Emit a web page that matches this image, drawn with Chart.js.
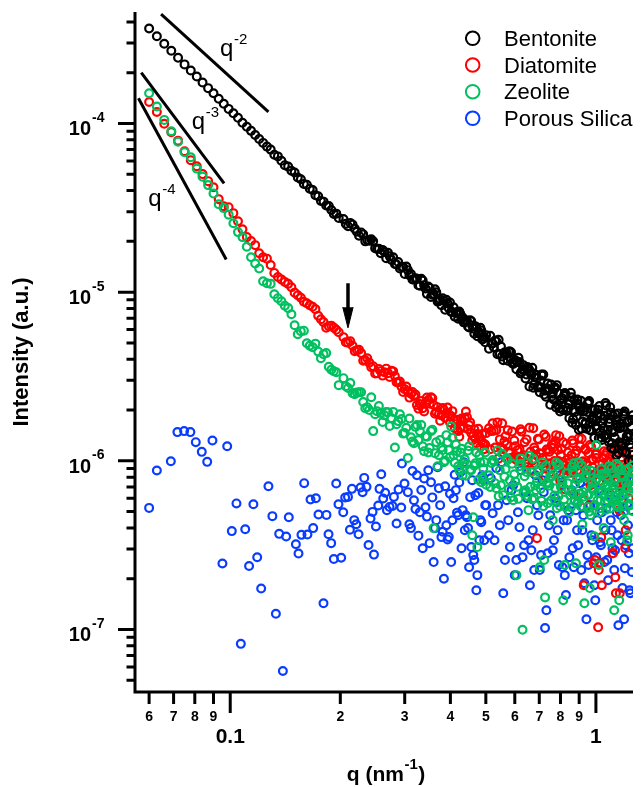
<!DOCTYPE html>
<html>
<head>
<meta charset="utf-8">
<script src="https://cdn.jsdelivr.net/npm/chart.js@4.4.1/dist/chart.umd.min.js"></script>
<style>
html,body{margin:0;padding:0;background:#fff;}
canvas{display:block;}
</style>
</head>
<body>
<canvas id="c" width="644" height="787" style="width:644px;height:787px"></canvas>
<script>
// ---------------- data ----------------
// q grid shared by Bentonite, Diatomite and Zeolite (nm^-1)
const qGrid = [
0.060,0.063,0.066,0.069,0.072,0.075,0.078,0.081,0.084,0.087,0.090,0.093,0.096,0.099,0.102,0.105,0.108,0.111,0.114,0.117,0.120,0.123,0.126,0.129,0.132,0.135,0.138,0.141,0.144,0.147,0.150,0.153,0.156,0.159,0.162,0.165,0.168,0.171,0.174,0.177,0.180,0.183,0.186,0.189,0.192,0.195,0.198,
0.204,0.210,0.216,0.222,0.228,0.234,0.240,0.246,0.252,0.258,0.264,0.270,0.276,0.282,0.288,0.294,0.300,0.306,0.312,0.318,0.324,0.330,0.336,0.342,0.348,0.354,0.360,0.366,0.372,0.378,0.384,0.390,0.396,0.402,0.408,0.414,0.420,0.426,0.432,0.438,0.444,0.450,0.456,0.462,0.468,0.474,0.480,0.486,0.492,0.498,
0.510,0.522,0.534,0.546,0.558,0.570,0.582,0.594,0.606,0.618,0.630,0.642,0.654,0.666,0.678,0.690,0.702,0.714,0.726,0.738,0.750,0.762,0.774,0.786,0.798,0.810,0.822,0.834,0.846,0.858,0.870,0.882,0.894,0.906,0.918,0.930,0.942,0.954,0.966,0.978,0.990,1.002,1.014,1.026,1.038,1.050,1.062,1.074,1.086,1.098,1.110,1.122,1.134,1.146,1.158,1.170,1.182,1.194,1.206,1.218,1.230,1.242,1.254
];
const qMidB = [0.207,0.213,0.219,0.225,0.231,0.237,0.243,0.249,0.255,0.261,0.267,0.273,0.279,0.285,0.291,0.297,0.303,0.309,0.315,0.321,0.327,0.333,0.339,0.345,0.351,0.357,0.363,0.369,0.375,0.381,0.387,0.393,0.399,0.405,0.411,0.417,0.423,0.429,0.435,0.441,0.447,0.453,0.459,0.465,0.471,0.477,0.483,0.489,0.495,0.501];
const qC2 = [0.514,0.526,0.538,0.550,0.562,0.574,0.586,0.598,0.610,0.622,0.634,0.646,0.658,0.670,0.682,0.694,0.706,0.718,0.730,0.742,0.754,0.766,0.778,0.790,0.802,0.814,0.826,0.838,0.850,0.862,0.874,0.886,0.898,0.910,0.922,0.934,0.946,0.958,0.970,0.982,0.994,1.006,1.018,1.030,1.042,1.054,1.066,1.078,1.090,1.102,1.114,1.126,1.138,1.150,1.162,1.174,1.186,1.198,1.210,1.222,1.234,1.246,1.258];
const qC3 = [0.518,0.530,0.542,0.554,0.566,0.578,0.590,0.602,0.614,0.626,0.638,0.650,0.662,0.674,0.686,0.698,0.710,0.722,0.734,0.746,0.758,0.770,0.782,0.794,0.806,0.818,0.830,0.842,0.854,0.866,0.878,0.890,0.902,0.914,0.926,0.938,0.950,0.962,0.974,0.986,0.998,1.010,1.022,1.034,1.046,1.058,1.070,1.082,1.094,1.106,1.118,1.130,1.142,1.154,1.166,1.178,1.190,1.202,1.214,1.226,1.238,1.250,1.262];

// Bentonite intensity (a.u.)
const bentonite = [
3.66e-4,3.29e-4,2.97e-4,2.70e-4,2.45e-4,2.24e-4,2.06e-4,1.90e-4,1.75e-4,1.62e-4,1.51e-4,1.40e-4,1.31e-4,1.22e-4,1.15e-4,1.08e-4,1.01e-4,9.57e-5,9.04e-5,8.55e-5,8.09e-5,7.67e-5,7.29e-5,7.00e-5,6.53e-5,6.38e-5,6.01e-5,5.66e-5,5.55e-5,5.25e-5,5.12e-5,4.78e-5,4.67e-5,4.38e-5,4.33e-5,4.10e-5,4.03e-5,3.75e-5,3.70e-5,3.47e-5,3.44e-5,3.26e-5,3.24e-5,3.07e-5,2.91e-5,2.92e-5,2.75e-5,
2.71e-5,2.46e-5,2.52e-5,2.28e-5,2.26e-5,2.00e-5,2.02e-5,2.00e-5,1.80e-5,1.70e-5,1.73e-5,1.71e-5,1.55e-5,1.47e-5,1.51e-5,1.41e-5,1.28e-5,1.35e-5,1.28e-5,1.19e-5,1.20e-5,1.09e-5,1.17e-5,1.05e-5,1.08e-5,9.35e-6,9.79e-6,9.98e-6,8.85e-6,8.36e-6,8.89e-6,9.02e-6,8.02e-6,7.64e-6,8.13e-6,7.53e-6,6.95e-6,7.41e-6,7.08e-6,6.62e-6,6.78e-6,6.17e-6,6.73e-6,6.08e-6,6.28e-6,5.48e-6,5.78e-6,5.93e-6,5.30e-6,5.04e-6,
4.62e-6,4.96e-6,5.12e-6,4.29e-6,3.95e-6,4.35e-6,4.45e-6,3.75e-6,3.49e-6,3.86e-6,3.47e-6,3.08e-6,3.52e-6,3.24e-6,2.84e-6,3.09e-6,2.55e-6,3.20e-6,2.60e-6,2.87e-6,2.15e-6,2.50e-6,2.72e-6,2.15e-6,1.96e-6,2.35e-6,2.52e-6,1.99e-6,1.79e-6,2.38e-6,1.99e-6,1.63e-6,2.17e-6,1.99e-6,1.71e-6,1.98e-6,1.55e-6,2.21e-6,1.69e-6,2.00e-6,1.37e-6,1.74e-6,2.01e-6,1.47e-6,1.33e-6,1.77e-6,2.20e-6,1.43e-6,1.29e-6,1.93e-6,1.53e-6,1.17e-6,1.75e-6,1.58e-6,1.29e-6,1.60e-6,1.14e-6,1.90e-6,1.32e-6,1.69e-6,9.98e-7,1.41e-6,1.75e-6
];
const bentoniteMidB = [2.54e-5,2.57e-5,2.38e-5,2.16e-5,2.20e-5,2.03e-5,2.06e-5,1.82e-5,1.81e-5,1.78e-5,1.59e-5,1.63e-5,1.61e-5,1.46e-5,1.38e-5,1.41e-5,1.42e-5,1.26e-5,1.19e-5,1.21e-5,1.10e-5,1.20e-5,1.10e-5,9.77e-6,1.06e-5,9.64e-6,1.04e-5,8.79e-6,9.03e-6,9.20e-6,7.87e-6,8.57e-6,8.68e-6,7.60e-6,7.16e-6,7.62e-6,7.67e-6,6.96e-6,6.62e-6,6.78e-6,6.25e-6,6.82e-6,6.35e-6,5.67e-6,6.19e-6,5.70e-6,6.15e-6,5.24e-6,5.42e-6,5.56e-6];
const bentoniteC2 = [5.51e-6,4.71e-6,4.29e-6,4.76e-6,4.38e-6,3.92e-6,4.40e-6,3.82e-6,3.87e-6,3.30e-6,3.69e-6,3.25e-6,2.76e-6,3.56e-6,3.13e-6,2.72e-6,2.99e-6,3.25e-6,2.40e-6,2.61e-6,2.83e-6,2.31e-6,2.07e-6,2.52e-6,2.30e-6,2.00e-6,2.48e-6,2.06e-6,2.25e-6,1.68e-6,2.29e-6,1.83e-6,1.53e-6,2.27e-6,1.96e-6,1.65e-6,1.95e-6,2.26e-6,1.51e-6,1.75e-6,2.02e-6,1.55e-6,1.36e-6,1.85e-6,1.67e-6,1.41e-6,2.13e-6,1.53e-6,1.77e-6,1.19e-6,1.85e-6,1.37e-6,1.08e-6,1.91e-6,1.56e-6,1.23e-6,1.58e-6,1.96e-6,1.12e-6,1.39e-6,1.73e-6,1.20e-6,1.01e-6];
const bentoniteC3 = [4.97e-6,5.17e-6,5.22e-6,4.16e-6,4.25e-6,4.44e-6,3.81e-6,3.94e-6,4.08e-6,3.37e-6,3.43e-6,3.60e-6,3.40e-6,2.71e-6,3.24e-6,2.76e-6,3.25e-6,2.47e-6,2.69e-6,2.65e-6,2.41e-6,2.67e-6,2.81e-6,2.05e-6,2.19e-6,2.43e-6,1.98e-6,2.16e-6,2.53e-6,1.76e-6,1.95e-6,2.31e-6,2.07e-6,1.55e-6,2.06e-6,1.69e-6,2.19e-6,1.53e-6,1.77e-6,1.79e-6,1.61e-6,1.91e-6,2.11e-6,1.37e-6,1.56e-6,1.85e-6,1.36e-6,1.68e-6,2.08e-6,1.27e-6,1.48e-6,1.89e-6,1.64e-6,1.11e-6,1.66e-6,1.27e-6,1.85e-6,1.13e-6,1.40e-6,1.44e-6,1.25e-6,1.60e-6,1.86e-6];

// Diatomite intensity (a.u.)
const diatomite = [
1.34e-4,1.17e-4,9.97e-5,8.88e-5,7.91e-5,6.85e-5,6.06e-5,5.58e-5,5.01e-5,4.55e-5,4.19e-5,3.56e-5,3.23e-5,3.19e-5,2.94e-5,2.63e-5,2.36e-5,2.12e-5,2.01e-5,1.90e-5,1.70e-5,1.61e-5,1.58e-5,1.45e-5,1.30e-5,1.23e-5,1.19e-5,1.15e-5,1.12e-5,1.07e-5,9.93e-6,9.59e-6,9.27e-6,8.78e-6,8.60e-6,8.37e-6,8.20e-6,7.93e-6,7.25e-6,6.91e-6,6.64e-6,6.16e-6,6.28e-6,6.33e-6,6.16e-6,5.99e-6,5.79e-6,
5.41e-6,5.02e-6,4.81e-6,4.53e-6,4.35e-6,3.95e-6,3.82e-6,3.64e-6,3.31e-6,3.40e-6,3.35e-6,3.31e-6,3.42e-6,3.18e-6,2.91e-6,2.75e-6,2.66e-6,2.57e-6,2.50e-6,2.42e-6,2.14e-6,2.17e-6,2.05e-6,2.20e-6,2.29e-6,2.38e-6,2.14e-6,1.94e-6,1.89e-6,1.86e-6,2.00e-6,1.92e-6,1.89e-6,1.84e-6,1.74e-6,1.65e-6,1.50e-6,1.56e-6,1.72e-6,1.79e-6,1.81e-6,1.63e-6,1.46e-6,1.40e-6,1.36e-6,1.44e-6,1.38e-6,1.31e-6,1.27e-6,1.25e-6,
1.56e-6,1.67e-6,1.52e-6,1.34e-6,1.17e-6,1.25e-6,1.11e-6,1.05e-6,1.01e-6,1.17e-6,1.05e-6,9.82e-7,9.68e-7,8.80e-7,1.20e-6,3.48e-7,1.11e-6,1.04e-6,8.11e-7,9.68e-7,8.56e-7,1.19e-6,1.31e-6,1.16e-6,7.68e-7,9.82e-7,6.79e-7,9.68e-7,8.68e-7,1.08e-6,6.34e-7,9.29e-7,7.89e-7,1.22e-6,9.82e-7,5.84e-7,8.80e-7,1.11e-6,7.17e-7,9.17e-7,5.46e-7,1.04e-6,1.03e-7,2.47e-7,1.83e-7,8.11e-7,1.08e-6,8.80e-7,6.52e-7,9.82e-7,2.83e-7,7.57e-7,1.64e-7,9.04e-7,5.10e-7,1.16e-6,6.88e-7,8.56e-7,3.88e-7,9.29e-7,6.00e-7,9.68e-7,7.89e-7
];
const diatomiteMidB = [5.05e-6,5.12e-6,4.47e-6,4.56e-6,3.92e-6,4.06e-6,3.59e-6,3.29e-6,3.50e-6,3.20e-6,3.52e-6,3.14e-6,3.39e-6,2.92e-6,2.95e-6,2.56e-6,2.76e-6,2.37e-6,2.56e-6,2.47e-6,2.04e-6,2.26e-6,1.96e-6,2.37e-6,2.18e-6,2.35e-6,1.90e-6,2.08e-6,1.73e-6,2.06e-6,1.80e-6,2.07e-6,1.69e-6,1.97e-6,1.56e-6,1.75e-6,1.39e-6,1.78e-6,1.57e-6,1.96e-6,1.54e-6,1.69e-6,1.32e-6,1.54e-6,1.27e-6,1.55e-6,1.21e-6,1.44e-6,1.17e-6,1.46e-6];
const diatomiteC2 = [1.17e-6,1.51e-6,1.69e-6,1.19e-6,1.30e-6,1.52e-6,1.04e-6,1.32e-6,1.16e-6,1.54e-6,1.08e-6,1.34e-6,1.57e-6,1.00e-6,1.15e-6,1.35e-6,1.10e-6,9.20e-7,1.39e-6,1.16e-6,9.68e-7,1.26e-6,1.42e-6,9.96e-7,1.09e-6,1.29e-6,8.82e-7,1.12e-6,9.85e-7,1.32e-6,9.24e-7,1.15e-6,1.36e-6,8.63e-7,9.95e-7,1.18e-6,9.57e-7,8.02e-7,1.21e-6,1.01e-6,2.58e-7,1.10e-6,2.25e-7,8.76e-7,9.61e-7,1.14e-6,7.82e-7,9.95e-7,8.74e-7,1.17e-6,2.83e-7,1.02e-6,1.21e-6,7.73e-7,1.64e-7,1.05e-6,8.61e-7,7.21e-7,1.09e-6,9.13e-7,7.66e-7,1.00e-6,1.13e-6];
const diatomiteC3 = [1.50e-6,1.20e-6,1.03e-6,1.67e-6,1.40e-6,1.12e-6,1.49e-6,1.22e-6,9.97e-7,1.49e-6,1.29e-6,1.02e-6,1.13e-6,1.56e-6,1.08e-6,1.34e-6,9.54e-7,1.43e-6,1.17e-6,1.13e-6,1.25e-6,9.96e-7,8.62e-7,1.40e-6,1.18e-6,9.40e-7,1.26e-6,1.03e-6,8.49e-7,1.27e-6,1.10e-6,8.79e-7,9.74e-7,1.35e-6,1.83e-7,1.16e-6,8.29e-7,1.24e-6,1.02e-6,2.47e-7,1.09e-6,8.74e-7,7.59e-7,3.52e-7,1.04e-6,8.32e-7,1.12e-6,9.18e-7,7.55e-7,1.13e-6,9.82e-7,2.04e-7,8.70e-7,1.21e-6,8.39e-7,1.04e-6,7.45e-7,3.03e-7,9.18e-7,8.88e-7,9.88e-7,7.90e-7,6.84e-7];

// Zeolite intensity (a.u.)
const zeolite = [
1.51e-4,1.26e-4,1.05e-4,9.00e-5,7.80e-5,6.76e-5,6.31e-5,5.40e-5,4.84e-5,4.31e-5,3.84e-5,3.32e-5,3.15e-5,2.88e-5,2.56e-5,2.27e-5,2.12e-5,1.86e-5,1.61e-5,1.48e-5,1.38e-5,1.16e-5,1.13e-5,1.12e-5,9.72e-6,9.21e-6,8.84e-6,8.31e-6,8.04e-6,7.40e-6,6.37e-6,5.63e-6,5.87e-6,5.91e-6,4.98e-6,4.81e-6,4.72e-6,4.95e-6,4.44e-6,4.06e-6,4.29e-6,4.35e-6,3.61e-6,3.47e-6,3.40e-6,3.35e-6,2.81e-6,
3.09e-6,2.70e-6,2.52e-6,2.54e-6,2.55e-6,2.05e-6,2.00e-6,1.50e-6,1.97e-6,1.92e-6,1.86e-6,1.94e-6,1.79e-6,1.20e-6,1.72e-6,1.77e-6,1.46e-6,1.04e-6,1.38e-6,1.27e-6,1.63e-6,1.50e-6,1.22e-6,1.40e-6,1.12e-6,1.50e-6,3.99e-7,1.29e-6,1.08e-6,1.20e-6,9.82e-7,1.42e-6,1.16e-6,1.60e-6,1.08e-6,1.25e-6,9.29e-7,1.12e-6,8.22e-7,1.02e-6,9.55e-7,1.22e-6,8.80e-7,4.63e-7,9.68e-7,3.08e-7,1.08e-6,7.47e-7,9.04e-7,1.12e-6,
8.22e-7,1.01e-6,6.88e-7,8.80e-7,6.26e-7,1.04e-6,7.68e-7,5.84e-7,2.10e-7,9.29e-7,9.96e-8,6.70e-7,5.10e-7,8.56e-7,6.00e-7,7.57e-7,2.34e-7,9.82e-7,1.55e-7,5.61e-7,8.11e-7,4.45e-7,6.88e-7,9.42e-7,5.38e-7,7.37e-7,2.41e-7,8.45e-7,4.96e-7,6.52e-7,9.68e-7,2.47e-7,5.76e-7,7.89e-7,4.21e-7,1.43e-7,8.80e-7,6.26e-7,4.76e-7,7.47e-7,3.57e-7,1.24e-6,6.52e-7,5.24e-7,8.33e-7,3.99e-7,7.07e-7,5.84e-7,9.29e-7,3.29e-7,6.70e-7,1.30e-7,7.89e-7,5.46e-7,1.49e-7,8.80e-7,6.26e-7,4.45e-7,7.47e-7,3.38e-7,9.04e-7,5.46e-7,6.88e-7
];
const zeoliteMidB = [2.77e-6,2.89e-6,2.48e-6,2.55e-6,2.23e-6,2.08e-6,2.38e-6,1.89e-6,2.11e-6,1.70e-6,1.95e-6,1.61e-6,1.95e-6,1.65e-6,1.89e-6,1.45e-6,1.57e-6,1.78e-6,1.30e-6,1.59e-6,1.33e-6,1.63e-6,1.14e-6,1.39e-6,1.19e-6,1.53e-6,1.11e-6,9.29e-7,1.33e-6,1.16e-6,1.00e-6,1.29e-6,1.05e-6,1.37e-6,9.76e-7,1.14e-6,8.80e-7,1.18e-6,9.68e-7,8.16e-7,1.15e-6,8.86e-7,3.62e-7,9.36e-7,1.12e-6,7.73e-7,9.76e-7,7.94e-7,9.82e-7,7.22e-7];
const zeoliteC2 = [7.00e-7,9.91e-7,1.15e-6,7.17e-7,8.06e-7,1.01e-6,6.08e-7,8.33e-7,7.02e-7,1.03e-6,6.44e-7,8.59e-7,1.07e-6,5.90e-7,7.14e-7,8.92e-7,6.82e-7,5.39e-7,9.33e-7,7.37e-7,5.82e-7,8.34e-7,9.77e-7,6.17e-7,6.99e-7,1.49e-7,5.34e-7,7.36e-7,6.25e-7,9.19e-7,5.81e-7,7.75e-7,9.76e-7,5.37e-7,6.54e-7,8.22e-7,6.28e-7,5.00e-7,8.72e-7,6.88e-7,5.47e-7,7.85e-7,2.41e-7,5.84e-7,6.66e-7,8.37e-7,5.13e-7,7.11e-7,6.08e-7,9.02e-7,5.69e-7,7.65e-7,9.61e-7,5.33e-7,6.54e-7,8.22e-7,6.34e-7,5.03e-7,8.78e-7,3.62e-7,5.54e-7,7.96e-7,9.37e-7];
const zeoliteC3 = [9.71e-7,7.37e-7,6.17e-7,1.10e-6,8.90e-7,6.80e-7,9.61e-7,7.55e-7,5.95e-7,9.60e-7,8.10e-7,6.19e-7,7.01e-7,1.03e-6,6.69e-7,8.63e-7,5.79e-7,2.58e-7,7.43e-7,7.13e-7,8.07e-7,6.22e-7,5.24e-7,9.45e-7,7.71e-7,5.89e-7,8.45e-7,6.67e-7,5.30e-7,8.61e-7,7.31e-7,5.57e-7,6.38e-7,9.37e-7,6.12e-7,7.96e-7,5.33e-7,1.76e-7,6.93e-7,6.66e-7,7.60e-7,5.84e-7,4.96e-7,8.95e-7,7.35e-7,5.64e-7,8.11e-7,6.45e-7,5.21e-7,8.44e-7,7.16e-7,5.51e-7,6.28e-7,9.31e-7,6.12e-7,7.96e-7,5.37e-7,8.78e-7,6.97e-7,6.76e-7,7.70e-7,5.92e-7,5.03e-7];

// Porous Silica (own q points)
const silicaQ = [
0.0600,0.0630,0.0688,0.0717,0.0748,0.0778,0.0805,0.0836,0.0865,0.0894,0.0952,0.0981,0.1010,0.1040,0.1069,0.1099,0.1126,0.1157,0.1185,0.1215,0.1272,0.1304,0.1333,0.1361,0.1393,0.1422,0.1446,0.1512,0.1537,0.1566,0.1593,0.1626,0.1658,0.1686,0.1715,0.1743,0.1799,0.1833,0.1857,0.1888,0.1920,0.1949,0.1977,0.2011,0.2037,0.2062,0.2099,0.2125,0.2152,0.2183,0.2211,0.2243,0.2272,0.2301,0.2325,0.2359,0.2389,0.2419,0.2450,0.2472,0.2503,0.2540,0.2560,0.2588,0.2620,0.2653,0.2682,0.2727,0.2779,0.2803,0.2850,0.2886,0.2935,0.2948,0.2996,
0.306,0.312,0.318,0.324,0.330,0.336,0.342,0.348,0.354,0.360,0.366,0.372,0.378,0.384,0.390,0.396,0.402,0.408,0.414,0.420,0.426,0.432,0.438,0.444,0.450,0.456,0.462,0.468,0.474,0.480,0.486,0.492,0.498,
0.510,0.522,0.534,0.546,0.558,0.570,0.582,0.594,0.606,0.618,0.630,0.642,0.654,0.666,0.678,0.690,0.702,0.714,0.726,0.738,0.750,0.762,0.774,0.786,0.798,0.810,0.822,0.834,0.846,0.858,0.870,0.882,0.894,0.906,0.918,0.930,0.942,0.954,0.966,0.978,0.990,1.002,1.014,1.026,1.038,1.050,1.062,1.074,1.086,1.098,1.110,1.122,1.134,1.146,1.158,1.170,1.182,1.194,1.206,1.218,1.230,1.242,1.254
];
const porousSilica = [
5.26e-7,8.76e-7,9.95e-7,1.48e-6,1.50e-6,1.48e-6,1.29e-6,1.13e-6,9.86e-7,1.32e-6,2.46e-7,1.22e-6,3.83e-7,5.59e-7,8.22e-8,3.93e-7,2.38e-7,5.53e-7,2.68e-7,1.75e-7,7.07e-7,4.70e-7,1.24e-7,3.69e-7,5.68e-8,3.56e-7,4.63e-7,3.20e-7,2.82e-7,3.64e-7,7.37e-7,3.66e-7,5.90e-7,3.99e-7,6.00e-7,4.81e-7,1.43e-7,4.78e-7,3.67e-7,3.25e-7,2.62e-7,7.34e-7,5.53e-7,2.66e-7,4.96e-7,6.06e-7,6.11e-7,3.90e-7,6.82e-7,4.45e-7,4.21e-7,3.67e-7,6.95e-7,6.52e-7,7.92e-7,7.01e-7,3.17e-7,4.55e-7,4.98e-7,2.78e-7,4.08e-7,5.43e-7,6.82e-7,8.33e-7,5.98e-7,6.46e-7,5.10e-7,5.33e-7,5.40e-7,6.11e-7,4.25e-7,6.76e-7,5.29e-7,9.64e-7,7.34e-7,
6.52e-7,3.99e-7,5.84e-7,8.22e-7,4.96e-7,3.03e-7,5.31e-7,8.80e-7,7.47e-7,2.51e-7,4.45e-7,6.88e-7,3.53e-7,2.00e-7,4.15e-7,3.53e-7,2.51e-7,6.00e-7,6.70e-7,4.76e-7,8.56e-7,5.10e-7,3.88e-7,4.63e-7,2.34e-7,3.08e-7,2.76e-7,6.26e-7,2.10e-7,3.38e-7,4.33e-7,7.68e-7,5.46e-7,
3.62e-7,4.89e-7,9.04e-7,4.15e-7,1.64e-7,5.84e-7,3.08e-7,7.17e-7,2.58e-7,4.04e-7,2.68e-7,6.52e-7,3.38e-7,2.95e-7,2.25e-7,5.46e-7,2.25e-7,7.68e-7,1.02e-7,2.83e-7,4.76e-7,2.95e-7,6.00e-7,3.88e-7,8.22e-7,2.34e-7,2.10e-7,4.45e-7,2.68e-7,6.70e-7,2.34e-7,5.10e-7,3.16e-7,7.37e-7,3.88e-7,1.88e-7,1.15e-7,2.41e-7,5.46e-7,3.38e-7,1.83e-7,2.68e-7,8.80e-7,3.29e-7,4.96e-7,6.26e-7,3.88e-7,2.58e-7,7.89e-7,4.45e-7,3.03e-7,2.25e-7,5.84e-7,3.62e-7,7.17e-7,4.76e-7,1.76e-7,1.15e-7,3.16e-7,5.46e-7,2.83e-7,1.64e-7,2.19e-7
];
const silicaQMid = [0.309,0.315,0.321,0.327,0.333,0.339,0.345,0.351,0.357,0.363,0.369,0.375,0.381,0.387,0.393,0.399,0.405,0.411,0.417,0.423,0.429,0.435,0.441,0.447,0.453,0.459,0.465,0.471,0.477,0.483,0.489,0.495,0.501];
const porousSilicaMid = [4.21e-7,8.70e-7,5.18e-7,3.60e-7,6.72e-7,7.85e-7,4.67e-7,3.25e-7,6.07e-7,3.99e-7,9.17e-7,5.46e-7,3.80e-7,7.07e-7,3.42e-7,6.38e-7,4.44e-7,8.27e-7,4.93e-7,7.45e-7,3.03e-7,9.82e-7,4.76e-7,3.99e-7,6.09e-7,7.68e-7,2.58e-7,1.71e-7,6.44e-7,4.45e-7,8.22e-7,3.38e-7,5.46e-7];
const silicaQC2 = [0.516,0.528,0.540,0.552,0.564,0.576,0.588,0.600,0.612,0.624,0.636,0.648,0.660,0.672,0.684,0.696,0.708,0.720,0.732,0.744,0.756,0.768,0.780,0.792,0.804,0.816,0.828,0.840,0.852,0.864,0.876,0.888,0.900,0.912,0.924,0.936,0.948,0.960,0.972,0.984,0.996,1.008,1.020,1.032,1.044,1.056,1.068,1.080,1.092,1.104,1.116,1.128,1.140,1.152,1.164,1.176,1.188,1.200,1.212,1.224,1.236,1.248,1.260];
const porousSilicaC2 = [7.89e-7,3.38e-7,5.46e-7,9.82e-7,2.58e-7,4.45e-7,6.70e-7,2.10e-7,4.96e-7,8.80e-7,3.16e-7,6.00e-7,1.83e-7,3.88e-7,8.22e-7,4.76e-7,2.76e-7,6.52e-7,1.30e-7,4.15e-7,9.04e-7,3.38e-7,5.68e-7,2.41e-7,7.17e-7,4.45e-7,1.60e-7,5.10e-7,8.56e-7,3.03e-7,5.84e-7,3.88e-7,9.42e-7,2.25e-7,4.76e-7,6.88e-7,2.76e-7,5.46e-7,3.62e-7,8.22e-7,1.49e-7,4.45e-7,6.70e-7,3.16e-7,9.04e-7,2.51e-7,5.24e-7,1.96e-7,6.26e-7,3.88e-7,8.80e-7,2.95e-7,4.96e-7,1.06e-7,7.17e-7,3.38e-7,5.84e-7,2.31e-7,7.89e-7,4.15e-7,1.71e-7,5.10e-7,3.03e-7];

const seriesNames = ['Bentonite','Diatomite','Zeolite','Porous Silica'];
const seriesColors = ['#000000','#ff0000','#00c060','#0a3cff'];

// power-law guide lines (q, I) and their labels
const slope2Q = [0.0647, 0.1272], slope2I = [4.45e-4, 1.17e-4];
const slope3Q = [0.0571, 0.0962], slope3I = [2.00e-4, 4.41e-5];
const slope4Q = [0.0561, 0.0975], slope4I = [1.41e-4, 1.56e-5];
const slopeLabelQ = [0.0938, 0.0785, 0.0597];
const slopeLabelI = [2.51e-4, 9.23e-5, 3.24e-5];
const slopeLabelExp = ['-2','-3','-4'];

// arrow marking the Diatomite shoulder
const arrowQ = [0.2031, 0.2099, 0.2168];
const arrowShaftI = [1.13e-5, 8.0e-6];
const arrowHeadI = [8.15e-6, 6.14e-6, 8.15e-6];

// axes
const xMin = 0.0549, xMax = 1.263, yMin = 4.26e-8, yMax = 4.58e-4;
const xMajorTicks = [0.1, 1], xMajorLabels = ['0.1', '1'];
const xMinorTicks = [0.06,0.07,0.08,0.09,0.2,0.3,0.4,0.5,0.6,0.7,0.8,0.9];
const xMinorLabels = ['6','7','8','9','2','3','4','5','6','7','8','9'];
const yMajorTicks = [1e-7, 1e-6, 1e-5, 1e-4], yMajorExps = ['-7','-6','-5','-4'];
const yMinorTicks = [5e-8,6e-8,7e-8,8e-8,9e-8,
  2e-7,3e-7,4e-7,5e-7,6e-7,7e-7,8e-7,9e-7,
  2e-6,3e-6,4e-6,5e-6,6e-6,7e-6,8e-6,9e-6,
  2e-5,3e-5,4e-5,5e-5,6e-5,7e-5,8e-5,9e-5,
  2e-4,3e-4,4e-4];
const xTitle = ['q (nm', '-1', ')'];
const yTitle = 'Intensity (a.u.)';

// ---------------- chart ----------------
const FONT = "'Liberation Sans', Arial, Helvetica, sans-serif";
const qShared = qGrid.concat(qMidB, qC2, qC3);
const pts = (qs, is) => qs.map((q, i) => ({x: q, y: is[i]}));
function scatterDs(name, color, q, vals, order) {
  return {type: 'scatter', label: name, data: pts(q, vals), showLine: false,
    pointStyle: 'circle', pointRadius: 3.9, pointBorderWidth: 2.2, pointHoverRadius: 3.9,
    pointBackgroundColor: 'rgba(0,0,0,0)', pointBorderColor: color,
    borderColor: color, backgroundColor: 'rgba(0,0,0,0)', order: order};
}
function lineDs(q, vals, w) {
  return {type: 'line', data: pts(q, vals), borderColor: '#000', borderWidth: w,
    pointRadius: 0, fill: false, tension: 0, borderCapStyle: 'butt', order: 0};
}

const datasets = [
  scatterDs(seriesNames[0], seriesColors[0], qShared, bentonite.concat(bentoniteMidB, bentoniteC2, bentoniteC3), 2),
  scatterDs(seriesNames[1], seriesColors[1], qShared, diatomite.concat(diatomiteMidB, diatomiteC2, diatomiteC3), 3),
  scatterDs(seriesNames[2], seriesColors[2], qShared, zeolite.concat(zeoliteMidB, zeoliteC2, zeoliteC3), 1),
  scatterDs(seriesNames[3], seriesColors[3], silicaQ.concat(silicaQMid, silicaQC2), porousSilica.concat(porousSilicaMid, porousSilicaC2), 4),
  lineDs(slope2Q, slope2I, 3),
  lineDs(slope3Q, slope3I, 3),
  lineDs(slope4Q, slope4I, 3),
  lineDs([arrowQ[1], arrowQ[1]], arrowShaftI, 3.5),
  {type: 'line', data: pts(arrowQ, arrowHeadI), borderColor: '#000', borderWidth: 1,
   backgroundColor: '#000', fill: 'shape', pointRadius: 0, tension: 0, order: 0}
];

function drawText(ctx, s, x, y, font, align) {
  ctx.font = font; ctx.textAlign = align || 'left'; ctx.textBaseline = 'alphabetic';
  ctx.fillText(s, x, y);
  return ctx.measureText(s).width;
}

const framePlugin = {
  id: 'frame',
  afterDraw(chart) {
    const ctx = chart.ctx, a = chart.chartArea, xs = chart.scales.x, ys = chart.scales.y;
    ctx.save();
    ctx.strokeStyle = '#000'; ctx.fillStyle = '#000'; ctx.lineCap = 'butt';
    ctx.lineWidth = 3;
    ctx.beginPath();
    ctx.moveTo(a.left, a.top); ctx.lineTo(a.left, a.bottom + 1.5);
    ctx.moveTo(a.left - 1.5, a.bottom); ctx.lineTo(a.right, a.bottom);
    ctx.stroke();
    ctx.beginPath();
    yMajorTicks.forEach(v => { const p = ys.getPixelForValue(v); ctx.moveTo(a.left - 17, p); ctx.lineTo(a.left, p); });
    yMinorTicks.forEach(v => { const p = ys.getPixelForValue(v); ctx.moveTo(a.left - 8.5, p); ctx.lineTo(a.left, p); });
    xMajorTicks.forEach(v => { const p = xs.getPixelForValue(v); ctx.moveTo(p, a.bottom); ctx.lineTo(p, a.bottom + 21); });
    xMinorTicks.forEach(v => { const p = xs.getPixelForValue(v); ctx.moveTo(p, a.bottom); ctx.lineTo(p, a.bottom + 12); });
    ctx.stroke();
    yMajorTicks.forEach((v, i) => {
      const p = ys.getPixelForValue(v);
      drawText(ctx, '10', a.left - 44, p + 12, 'bold 20px ' + FONT, 'right');
      drawText(ctx, yMajorExps[i], a.left - 43, p - 1.5, 'bold 14px ' + FONT, 'left');
    });
    xMinorTicks.forEach((v, i) => {
      drawText(ctx, xMinorLabels[i], xs.getPixelForValue(v), a.bottom + 29, 'bold 14px ' + FONT, 'center');
    });
    xMajorTicks.forEach((v, i) => {
      drawText(ctx, xMajorLabels[i], xs.getPixelForValue(v), a.bottom + 51, 'bold 21px ' + FONT, 'center');
    });
    {
      const f1 = 'bold 21px ' + FONT, f2 = 'bold 15px ' + FONT;
      ctx.font = f1; const w1 = ctx.measureText(xTitle[0]).width, w3 = ctx.measureText(xTitle[2]).width;
      ctx.font = f2; const w2 = ctx.measureText(xTitle[1]).width;
      const total = w1 + w2 + w3 + 1;
      let x0 = 386 - total / 2, base = 781;
      drawText(ctx, xTitle[0], x0, base, f1); x0 += w1 + 0.5;
      drawText(ctx, xTitle[1], x0, base - 12.5, f2); x0 += w2 + 0.5;
      drawText(ctx, xTitle[2], x0, base, f1);
    }
    ctx.save();
    ctx.translate(27.5, 352); ctx.rotate(-Math.PI / 2);
    drawText(ctx, yTitle, 0, 0, 'bold 22px ' + FONT, 'center');
    ctx.restore();
    slopeLabelQ.forEach((q, i) => {
      const px = xs.getPixelForValue(q), py = ys.getPixelForValue(slopeLabelI[i]);
      const w = drawText(ctx, 'q', px, py, '24px ' + FONT, 'left');
      drawText(ctx, slopeLabelExp[i], px + w + 0.5, py - 12.5, '15px ' + FONT, 'left');
    });
    const legY = [38.3, 65, 91.7, 118.3];
    seriesNames.forEach((n, i) => {
      ctx.beginPath(); ctx.lineWidth = 2; ctx.strokeStyle = seriesColors[i];
      ctx.arc(472.7, legY[i], 6.8, 0, Math.PI * 2); ctx.stroke();
      ctx.fillStyle = '#000';
      drawText(ctx, n, 504, legY[i] + 7.5, '22px ' + FONT, 'left');
    });
    ctx.restore();
  }
};

new Chart(document.getElementById('c'), {
  type: 'scatter',
  data: {datasets: datasets},
  options: {
    responsive: false, animation: false, devicePixelRatio: 1, events: [],
    layout: {padding: {left: 135, right: 11, top: 12, bottom: 95}},
    plugins: {legend: {display: false}, tooltip: {enabled: false}},
    scales: {
      x: {type: 'logarithmic', min: xMin, max: xMax, display: false},
      y: {type: 'logarithmic', min: yMin, max: yMax, display: false}
    }
  },
  plugins: [framePlugin]
});
</script>
</body>
</html>
